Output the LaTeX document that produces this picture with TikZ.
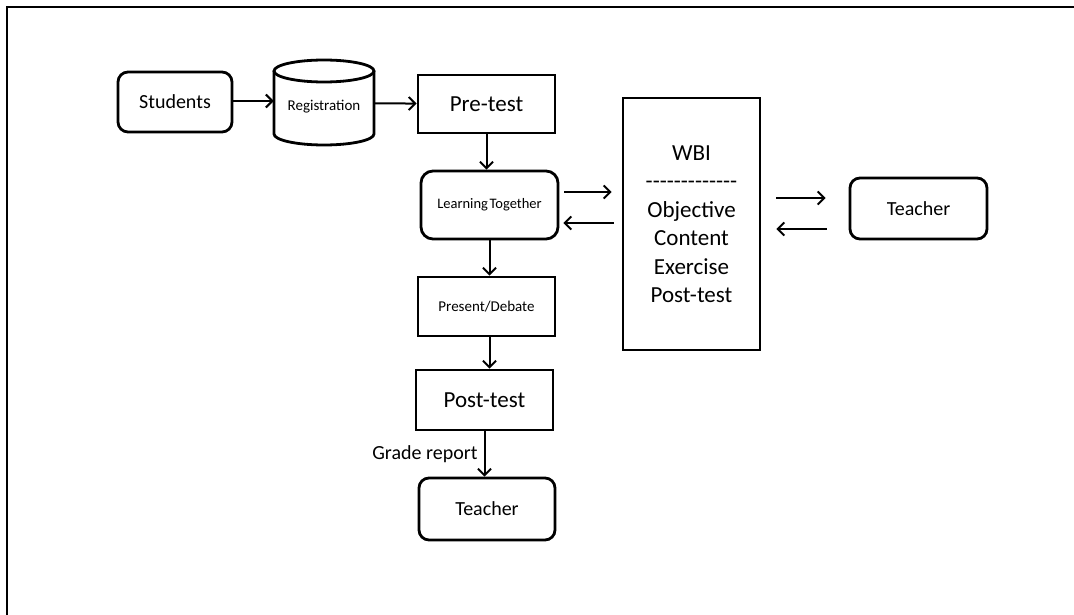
\documentclass[tikz,border=0pt]{standalone}
\usepackage{fontspec}
\setmainfont{Carlito}
\usetikzlibrary{arrows.meta,calc}
\begin{document}
\begin{tikzpicture}[x=1pt,y=-1pt,
  box/.style={draw, line width=2.8pt, minimum width=137pt, inner sep=0pt, align=center},
  rbox/.style={box, rounded corners=10pt},
  arr/.style={line width=2pt, -{Straight Barb[length=6.5pt,width=13pt,line width=2pt]}},
  big/.style={font=\fontsize{23}{28.5}\selectfont},
  mid/.style={font=\fontsize{20}{24}\selectfont},
  small/.style={font=\fontsize{15}{18}\selectfont}]
\useasboundingbox (0,0) rectangle (1074,615);
\draw[line width=2.2pt] (7,615) -- (7,7) -- (1074,7);
% cylinder
\draw[line width=2.8pt, fill=white] (274,71) -- (274,134) arc[start angle=180, end angle=0, x radius=50, y radius=11] -- (374,71);
\draw[line width=2.8pt] (324,71) ellipse[x radius=50, y radius=11];
\node[minimum width=100pt, minimum height=85pt, inner sep=0pt,
  label={[small, yshift=-4pt]center:Registration}] (reg) at (324,103) {};
\node[rbox, mid, minimum width=114pt, minimum height=60pt] (stu) at (175,102) {Students};
\node[box, big, minimum height=58pt] (pre) at (486.5,104) {Pre-test};
\node[rbox, font=\fontsize{14.5}{18}\selectfont, minimum height=68pt, rounded corners=12pt] (lt) at (489.5,205) {Learning\hspace{0.12em}Together};
\node[box, big, minimum height=252pt] (wbi) at (691.5,224) {WBI\\-{}-{}-{}-{}-{}-{}-{}-{}-{}-{}-{}-{}-\\Objective\\Content\\Exercise\\Post-test};
\node[rbox, mid, minimum height=61pt] (tr) at (918.5,208.5) {Teacher};
\node[box, small, minimum height=59pt] (pd) at (486.5,306.5) {Present/Debate};
\node[box, big, minimum height=60pt] (post) at (484.5,400) {Post-test};
\node[rbox, mid, minimum width=136pt, minimum height=62pt] (tb) at (487,509) {Teacher};
% connectors
\draw[arr] ($(stu.east)+(0,-1)$) coordinate (se) -- (se -| reg.west);
\draw[arr] (reg) -- (pre);
\draw[arr] (pre.south) -- (pre.south |- lt.north);
\draw[arr] ($(lt.east)+(5,-13)$) -- ($(wbi.west)+(-10,-32)$);
\draw[arr] ($(wbi.west)+(-8,-1)$) -- ($(lt.east)+(4,18)$);
\draw[arr] ($(wbi.east)+(15,-26)$) -- ($(tr.west)+(-23,-10.5)$);
\draw[arr] ($(tr.west)+(-22,20.5)$) -- ($(wbi.east)+(15,5)$);
\draw[arr] (lt.south) -- (lt.south |- pd.north);
\draw[arr] ($(pd.south)+(3,0)$) coordinate (pds) -- (pds |- post.north);
\draw[arr] (post.south) -- (post.south |- tb.north) node[midway, left, mid, inner sep=6pt] {Grade report};
\end{tikzpicture}
\end{document}
